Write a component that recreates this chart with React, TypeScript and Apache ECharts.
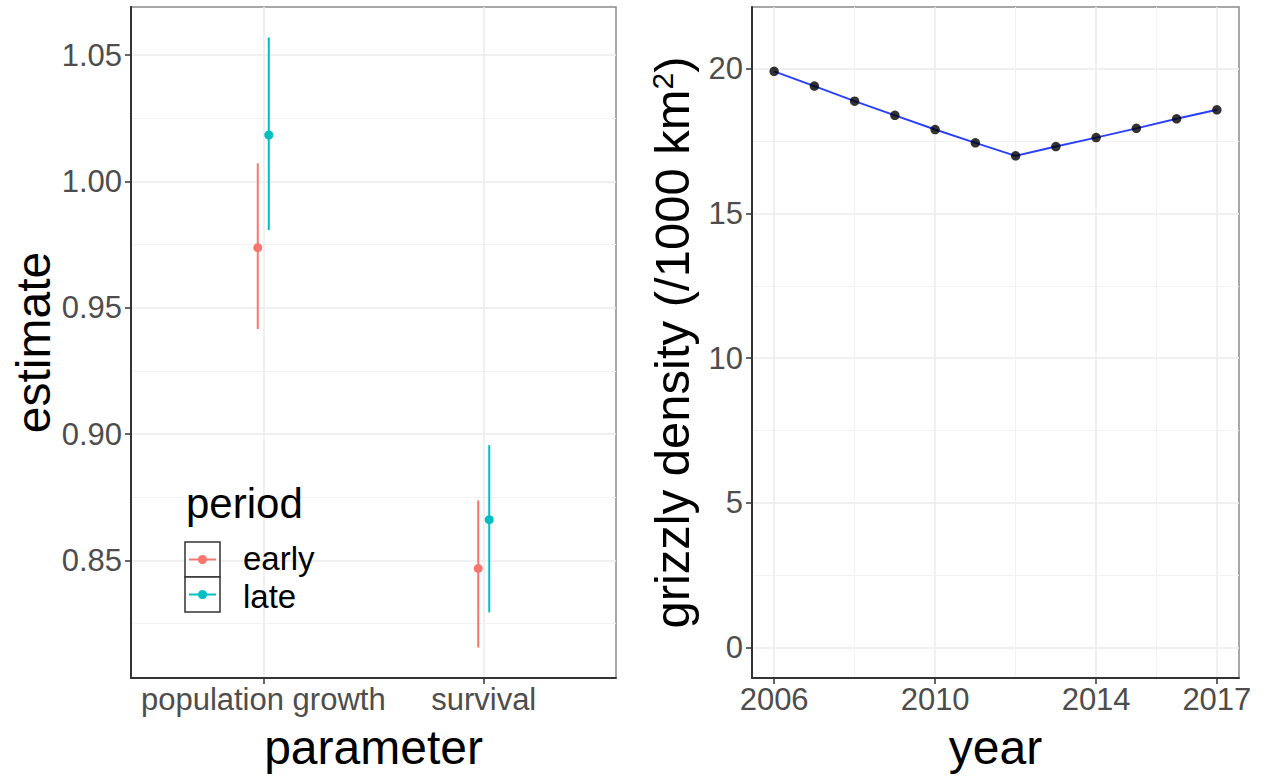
import React, { useEffect, useRef } from 'react';
import * as echarts from 'echarts';

// ---------- data: left panel ----------
const parameters = ['population growth', 'survival'];
const periods = ['early', 'late'];
const periodColors = ['#F8766D', '#00BFC4'];
const estimateEarly = [0.9738, 0.8468];
const lowerEarly = [0.9416, 0.8155];
const upperEarly = [1.0072, 0.8737];
const estimateLate = [1.0184, 0.8661];
const lowerLate = [0.9808, 0.8294];
const upperLate = [1.057, 0.8956];
const dodgeOffsets = [-0.025, 0.025];
const estimateTicks = [0.85, 0.9, 0.95, 1.0, 1.05];
const estimateMinorTicks = [0.825, 0.875, 0.925, 0.975, 1.025];

// ---------- data: right panel ----------
const years = [2006, 2007, 2008, 2009, 2010, 2011, 2012, 2013, 2014, 2015, 2016, 2017];
const density = [19.91, 19.4, 18.88, 18.39, 17.9, 17.44, 16.99, 17.31, 17.62, 17.94, 18.27, 18.58];
const yearTicks = [2006, 2010, 2014, 2017];
const yearMinorTicks = [2008, 2012, 2015.5];
const densityTicks = [0, 5, 10, 15, 20];
const densityMinorTicks = [2.5, 7.5, 12.5, 17.5];
const densityLimits = [0, 21.08];

const FONT = '"Liberation Sans", Arial, Helvetica, sans-serif';
const expand = (lo: number, hi: number, f = 0.05) => [lo - (hi - lo) * f, hi + (hi - lo) * f];

export default function App() {
  const ref = useRef<HTMLDivElement>(null);
  useEffect(() => {
    if (!ref.current) return;
    const chart = echarts.init(ref.current, undefined, { renderer: 'svg' });

    const allEst = [...lowerEarly, ...upperEarly, ...lowerLate, ...upperLate];
    const [estMin, estMax] = expand(Math.min(...allEst), Math.max(...allEst));
    const [yearMin, yearMax] = expand(years[0], years[years.length - 1]);
    const [denMin, denMax] = expand(densityLimits[0], densityLimits[1]);

    const majorSplit = { show: true, lineStyle: { color: '#ebebeb', width: 1.5 } };
    const minorSplit = { show: true, lineStyle: { color: '#f2f2f2', width: 1 } };
    const axisLine = { show: true, onZero: false, lineStyle: { color: '#333333', width: 2 } };
    const axisTick = (vals: number[]) => ({ show: true, length: 6, customValues: vals, lineStyle: { color: '#333333', width: 1.5 } });
    const tickLabel = { fontSize: 31, color: '#4d4d4d', fontFamily: FONT };
    const titleStyle = { fontSize: 48, color: '#000000', fontFamily: FONT, lineHeight: 48 };

    const hiddenMinor = (vals: number[]) => ({
      axisLine: { show: false },
      axisTick: { show: false, customValues: vals },
      axisLabel: { show: false, customValues: vals },
      splitLine: minorSplit,
    });

    const errSeries = (pi: number, est: number[], lo: number[], hi: number[]) => ({
      type: 'custom',
      name: periods[pi],
      xAxisIndex: 0,
      yAxisIndex: 0,
      z: 3,
      data: parameters.map((_, i) => [i + 1 + dodgeOffsets[pi], lo[i], hi[i], est[i]]),
      encode: { x: 0, y: [1, 2, 3] },
      renderItem: (params: any, api: any) => {
        const x = api.value(0);
        const a = api.coord([x, api.value(1)]);
        const b = api.coord([x, api.value(2)]);
        const p = api.coord([x, api.value(3)]);
        return {
          type: 'group',
          children: [
            { type: 'line', shape: { x1: a[0], y1: a[1], x2: b[0], y2: b[1] }, style: { stroke: periodColors[pi], lineWidth: 2 } },
            { type: 'circle', shape: { cx: p[0], cy: p[1], r: 4.5 }, style: { fill: periodColors[pi] } },
          ],
        };
      },
    });

    const legendKeys: any[] = [];
    const labelCenters = [558, 596];
    periods.forEach((p, i) => {
      const top = 542 + i * 35;
      const cy = top + 17.5;
      legendKeys.push(
        { type: 'rect', z: 100, shape: { x: 185, y: top, width: 35, height: 35 }, style: { fill: '#ffffff', stroke: '#333333', lineWidth: 1.5 } },
        { type: 'line', z: 101, shape: { x1: 189, y1: cy, x2: 216, y2: cy }, style: { stroke: periodColors[i], lineWidth: 2 } },
        { type: 'circle', z: 102, shape: { cx: 202.5, cy, r: 4.5 }, style: { fill: periodColors[i] } },
        { type: 'text', z: 100, x: 243, y: labelCenters[i], style: { text: p, fill: '#000000', font: `33px ${FONT}`, align: 'left', verticalAlign: 'middle' } },
      );
    });

    chart.setOption({
      animation: false,
      backgroundColor: '#ffffff',
      textStyle: { fontFamily: FONT },
      grid: [
        { left: 131, top: 7, width: 485, height: 675, show: true, borderColor: '#8a8a8a', borderWidth: 1.5, backgroundColor: 'transparent' },
        { left: 752, top: 7, width: 487, height: 675, show: true, borderColor: '#8a8a8a', borderWidth: 1.5, backgroundColor: 'transparent' },
      ],
      xAxis: [
        {
          type: 'value', gridIndex: 0, min: 0.4, max: 2.6, position: 'bottom',
          axisLine, axisTick: axisTick([1, 2]),
          axisLabel: { ...tickLabel, margin: 6, customValues: [1, 2], formatter: (v: number) => parameters[Math.round(v) - 1] ?? '' },
          splitLine: majorSplit,
          name: 'parameter', nameLocation: 'middle', nameGap: 45, nameTextStyle: titleStyle,
        },
        {
          type: 'value', gridIndex: 1, min: yearMin, max: yearMax, position: 'bottom',
          axisLine, axisTick: axisTick(yearTicks),
          axisLabel: { ...tickLabel, margin: 6, customValues: yearTicks, formatter: (v: number) => String(v) },
          splitLine: majorSplit,
          name: 'year', nameLocation: 'middle', nameGap: 45, nameTextStyle: titleStyle,
        },
        { type: 'value', gridIndex: 1, min: yearMin, max: yearMax, position: 'bottom', ...hiddenMinor(yearMinorTicks) },
      ],
      yAxis: [
        {
          type: 'value', gridIndex: 0, min: estMin, max: estMax, position: 'left',
          axisLine, axisTick: axisTick(estimateTicks),
          axisLabel: { ...tickLabel, margin: 9, customValues: estimateTicks, formatter: (v: number) => v.toFixed(2) },
          splitLine: majorSplit,
          name: 'estimate', nameLocation: 'middle', nameGap: 74, nameTextStyle: titleStyle,
        },
        { type: 'value', gridIndex: 0, min: estMin, max: estMax, position: 'left', ...hiddenMinor(estimateMinorTicks) },
        {
          type: 'value', gridIndex: 1, min: denMin, max: denMax, position: 'left',
          axisLine, axisTick: axisTick(densityTicks),
          axisLabel: { ...tickLabel, margin: 9, customValues: densityTicks, formatter: (v: number) => String(v) },
          splitLine: majorSplit,
          name: 'grizzly density (/1000 km{sup|2})', nameLocation: 'middle', nameGap: 56,
          nameTextStyle: { ...titleStyle, fontSize: 49, lineHeight: 49, rich: { sup: { fontSize: 30, lineHeight: 17, verticalAlign: 'top', color: '#000000', fontFamily: FONT } } },
        },
        { type: 'value', gridIndex: 1, min: denMin, max: denMax, position: 'left', ...hiddenMinor(densityMinorTicks) },
      ],
      series: [
        errSeries(0, estimateEarly, lowerEarly, upperEarly),
        errSeries(1, estimateLate, lowerLate, upperLate),
        {
          type: 'line', xAxisIndex: 1, yAxisIndex: 2, z: 3,
          data: years.map((y, i) => [y, density[i]]),
          showSymbol: false, symbol: 'none',
          lineStyle: { color: '#2a40ff', width: 2 },
        },
        {
          type: 'scatter', xAxisIndex: 1, yAxisIndex: 2, z: 4,
          data: years.map((y, i) => [y, density[i]]),
          symbol: 'circle', symbolSize: 9.5,
          itemStyle: { color: '#000000' },
        },
      ],
      graphic: [
        { type: 'text', z: 100, x: 186, y: 503, style: { text: 'period', fill: '#000000', font: `42px ${FONT}`, align: 'left', verticalAlign: 'middle' } },
        ...legendKeys,
      ],
    });
    return () => chart.dispose();
  }, []);
  return <div ref={ref} style={{ position: 'fixed', left: 0, top: 0, width: 1269, height: 776 }} />;
}
